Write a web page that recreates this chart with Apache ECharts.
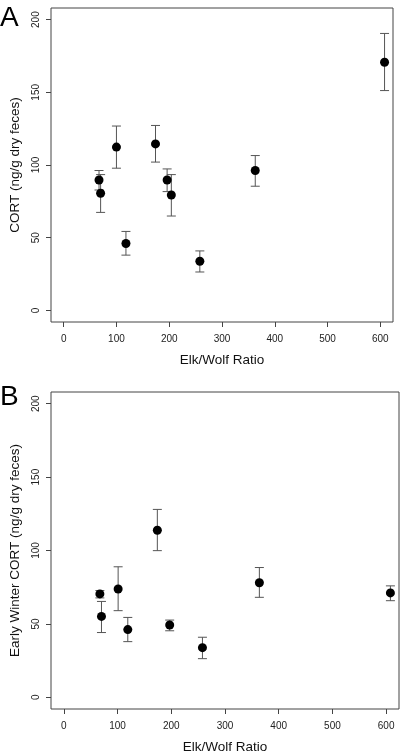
<!DOCTYPE html>
<html>
<head>
<meta charset="utf-8">
<script src="https://cdn.jsdelivr.net/npm/echarts@6/dist/echarts.min.js"></script>
<style>
html,body{margin:0;padding:0;background:#fff;}
#c{width:402px;height:756px;}
</style>
</head>
<body>
<div id="c"></div>
<script>
// Panel A: CORT vs Elk/Wolf ratio
var xA  = [67, 70, 100, 118, 174, 196, 204, 258, 363, 608];
var yA  = [89.7, 80.6, 112.3, 46.0, 114.5, 89.7, 79.4, 33.8, 96.2, 170.7];
var loA = [82.8, 67.4, 97.8, 38.0, 102.0, 81.7, 64.9, 26.4, 85.4, 151.2];
var hiA = [96.2, 93.4, 126.8, 54.3, 127.2, 97.3, 93.4, 40.9, 106.5, 190.5];

// Panel B: Early winter CORT vs Elk/Wolf ratio
var xB  = [67, 70, 101, 119, 174, 197, 258, 364, 608];
var yB  = [70.4, 55.1, 73.8, 46.1, 113.8, 49.2, 33.8, 78.0, 71.1];
var loB = [67.7, 44.1, 59.0, 37.9, 99.9, 45.3, 26.3, 68.1, 65.8];
var hiB = [72.7, 65.3, 88.9, 54.4, 128.0, 52.6, 40.9, 88.4, 75.9];

var xTicks = [0, 100, 200, 300, 400, 500, 600];
var yTicks = [0, 50, 100, 150, 200];
var xTitle = 'Elk/Wolf Ratio';
var yTitleA = 'CORT (ng/g dry feces)';
var yTitleB = 'Early Winter CORT (ng/g dry feces)';

var FONT = '"Liberation Sans", Arial, sans-serif';
var LINE = '#444';

function errData(x, lo, hi) {
  return x.map(function (v, i) { return [v, lo[i], hi[i]]; });
}
function ptData(x, y) {
  return x.map(function (v, i) { return [v, y[i]]; });
}
function renderErr(params, api) {
  var x = api.value(0);
  var lo = api.coord([x, api.value(1)]);
  var hi = api.coord([x, api.value(2)]);
  var w = 4.5;
  var st = { stroke: '#555', lineWidth: 1 };
  return {
    type: 'group',
    children: [
      { type: 'line', shape: { x1: lo[0], y1: lo[1], x2: hi[0], y2: hi[1] }, style: st },
      { type: 'line', shape: { x1: hi[0] - w, y1: hi[1], x2: hi[0] + w, y2: hi[1] }, style: st },
      { type: 'line', shape: { x1: lo[0] - w, y1: lo[1], x2: lo[0] + w, y2: lo[1] }, style: st }
    ]
  };
}
function xAxisDef(idx) {
  return {
    gridIndex: idx, type: 'value', min: -24, max: 624,
    splitLine: { show: false },
    axisLine: { show: false, onZero: false },
    axisTick: { show: true, length: 5, customValues: xTicks, lineStyle: { color: LINE } },
    axisLabel: { customValues: xTicks, fontSize: 10, color: '#222', fontFamily: FONT, margin: 12 },
    name: xTitle, nameLocation: 'middle', nameGap: 31,
    nameTextStyle: { fontSize: 13.5, color: '#111', fontFamily: FONT }
  };
}
function yAxisDef(idx, title) {
  return {
    gridIndex: idx, type: 'value', min: -8, max: 208,
    splitLine: { show: false },
    axisLine: { show: false, onZero: false },
    axisTick: { show: true, length: 5, customValues: yTicks, lineStyle: { color: LINE } },
    axisLabel: { customValues: yTicks, fontSize: 10, color: '#222', fontFamily: FONT, rotate: 90, margin: 10 },
    name: title, nameLocation: 'middle', nameRotate: 90, nameGap: 29,
    nameTextStyle: { fontSize: 13.5, color: '#111', fontFamily: FONT }
  };
}

var chart = echarts.init(document.getElementById('c'), null, { renderer: 'canvas' });
chart.setOption({
  animation: false,
  backgroundColor: '#fff',
  grid: [
    { left: 48, top: 8, width: 345, height: 314, show: true, borderColor: LINE, borderWidth: 1, backgroundColor: 'transparent' },
    { left: 49, top: 392, width: 350, height: 317, show: true, borderColor: LINE, borderWidth: 1, backgroundColor: 'transparent' }
  ],
  xAxis: [xAxisDef(0), xAxisDef(1)],
  yAxis: [yAxisDef(0, yTitleA), yAxisDef(1, yTitleB)],
  series: [
    { type: 'custom', xAxisIndex: 0, yAxisIndex: 0, renderItem: renderErr, data: errData(xA, loA, hiA), z: 2 },
    { type: 'scatter', xAxisIndex: 0, yAxisIndex: 0, data: ptData(xA, yA), symbolSize: 9, itemStyle: { color: '#000', opacity: 1 }, z: 3 },
    { type: 'custom', xAxisIndex: 1, yAxisIndex: 1, renderItem: renderErr, data: errData(xB, loB, hiB), z: 2 },
    { type: 'scatter', xAxisIndex: 1, yAxisIndex: 1, data: ptData(xB, yB), symbolSize: 9, itemStyle: { color: '#000', opacity: 1 }, z: 3 }
  ],
  graphic: [
    { type: 'text', left: 0, top: 4, style: { text: 'A', fontSize: 28, fontFamily: FONT, fill: '#000' } },
    { type: 'text', left: 0, top: 383, style: { text: 'B', fontSize: 28, fontFamily: FONT, fill: '#000' } }
  ]
});
</script>
</body>
</html>
